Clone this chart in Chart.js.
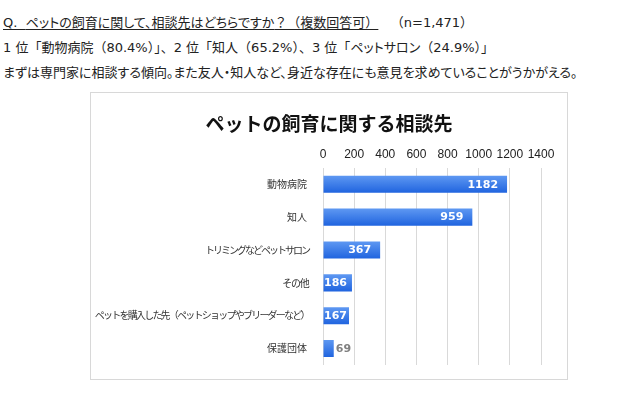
<!DOCTYPE html>
<html>
<head>
<meta charset="utf-8">
<script src="https://cdn.jsdelivr.net/npm/chart.js@4/dist/chart.umd.min.js"></script>
<style>
  body { margin: 0; background: #fff; width: 625px; height: 403px; position: relative; overflow: hidden;
         font-family: "Noto Sans CJK JP", sans-serif; color: #222; }
  .line { position: absolute; left: 3px; font-size: 13px; white-space: nowrap; font-family: "DejaVu Sans", "Noto Sans CJK JP", sans-serif; }
  .p { font-feature-settings: "palt"; }
  #q { top: 12px; }
  #q u { text-decoration: underline; text-underline-offset: 2px; }
  #l2 { top: 37px; }
  #l3 { top: 62px; font-family: "Noto Sans CJK JP", sans-serif; font-feature-settings: "palt"; }
  #box { position: absolute; left: 90px; top: 92px; width: 476px; height: 286px; border: 1px solid #d8d8d8; }
  canvas { display: block; }
</style>
</head>
<body>
<div class="line" id="q"><u>Q.&nbsp; <span class="p">ペットの飼育に関して、相談先はどちらですか</span>？（複数回答可）</u>&nbsp;&nbsp;&nbsp;（n=1,471）</div>
<div class="line" id="l2">1 位「動物病院（80.4%）」、2 位「知人（65.2%）、3 位「<span class="p">ペットサロン</span>（24.9%）」</div>
<div class="line" id="l3">まずは専門家に相談する傾向。また友人・知人など、身近な存在にも意見を求めていることがうかがえる。</div>
<div id="box"><canvas id="grafico" width="476" height="286"></canvas></div>
<script>
const categorias = ['動物病院', '知人', 'トリミングなどペットサロン', 'その他', 'ペットを購入した先（ペットショップやブリーダーなど）', '保護団体'];
const valores = [1182, 959, 367, 186, 167, 69];
const ejeMax = 1400;
const ejePaso = 200;
const grosorBarra = 0.52;

// etiquetas de valor sobre las barras
const etiquetas = {
    id: 'etiquetas',
    afterDatasetsDraw(chart) {
        const ctx = chart.ctx;
        const meta = chart.getDatasetMeta(0);
        const izq = chart.chartArea.left;
        ctx.save();
        ctx.font = 'bold 11px "DejaVu Sans"';
        ctx.textBaseline = 'middle';
        ctx.textAlign = 'left';
        meta.data.forEach((barra, i) => {
            const texto = String(valores[i]);
            const w = ctx.measureText(texto).width;
            let x = barra.x - 9 - w;
            if (barra.x - izq < 20) {
                ctx.fillStyle = '#808080';
                x = barra.x + 2;
            } else {
                ctx.fillStyle = '#ffffff';
                if (x < izq + 1) x = izq + 1;
            }
            ctx.fillText(texto, x, barra.y + 0.5);
        });
        ctx.restore();
    }
};

function degradado(context) {
    const chart = context.chart;
    const escala = chart.scales && chart.scales.y;
    if (!chart.chartArea || !escala) return '#3b7de8';
    const yc = escala.getPixelForValue(context.dataIndex);
    const banda = (chart.chartArea.bottom - chart.chartArea.top) / categorias.length;
    const medio = banda * grosorBarra / 2;
    if (!isFinite(yc) || !isFinite(medio)) return '#3b7de8';
    const g = chart.ctx.createLinearGradient(0, yc - medio, 0, yc + medio);
    g.addColorStop(0, '#5e98f2');
    g.addColorStop(1, '#2064df');
    return g;
}

// kana más estrechos (como una fuente proporcional)
function espaciado(texto) {
    const kana = (texto.match(/[\u3040-\u30ff\uff08\uff09]/g) || []).length;
    return -(kana * 2) / texto.length;
}

const ctx = document.getElementById('grafico').getContext('2d');
const chart = new Chart(ctx, {
    type: 'bar',
    data: {
        labels: categorias,
        datasets: [{
            data: valores,
            backgroundColor: degradado,
            borderWidth: 0,
            categoryPercentage: 1,
            barPercentage: grosorBarra
        }]
    },
    options: {
        indexAxis: 'y',
        responsive: false,
        animation: false,
        layout: { padding: { top: 0, right: 0, bottom: 13, left: 0 } },
        plugins: {
            legend: { display: false },
            tooltip: { enabled: false },
            title: {
                display: true,
                text: 'ペットの飼育に関する相談先',
                color: '#111',
                font: { family: '"Noto Sans CJK JP"', size: 19, weight: 'bold', lineHeight: 1.2 },
                padding: { top: 19, bottom: 8 }
            }
        },
        scales: {
            x: {
                position: 'top',
                min: 0,
                max: ejeMax,
                ticks: {
                    stepSize: ejePaso,
                    padding: 6,
                    maxRotation: 0,
                    minRotation: 0,
                    autoSkip: false,
                    color: '#222',
                    font: { family: '"Liberation Sans"', size: 12 },
                    callback: (v) => String(v)
                },
                grid: { color: '#d9d9d9', drawTicks: false },
                border: { display: false },
                afterFit(scale) { scale.height = 25; }
            },
            y: {
                ticks: {
                    padding: 8,
                    color: '#333',
                    font: { family: '"Noto Sans CJK JP"', size: 10 }
                },
                grid: { display: false },
                border: { display: false },
                afterFit(scale) {
                    scale.width = 232;
                    const dibujar = Object.getPrototypeOf(scale).drawLabels;
                    scale.drawLabels = function (area) {
                        const c = this.ctx;
                        const fillOrig = c.fillText;
                        c.fillText = function (t, x, y, m) {
                            const s = espaciado(String(t));
                            this.letterSpacing = s + 'px';
                            fillOrig.call(this, t, x - s, y, m);
                            this.letterSpacing = '0px';
                        };
                        dibujar.call(this, area);
                        c.fillText = fillOrig;
                    };
                }
            },
            // margen derecho vacío
            derecha: {
                type: 'linear',
                position: 'right',
                ticks: { display: false },
                grid: { display: false },
                border: { display: false },
                afterFit(scale) { scale.width = 26; }
            }
        }
    },
    plugins: [etiquetas]
});
chart.update();
</script>
</body>
</html>
